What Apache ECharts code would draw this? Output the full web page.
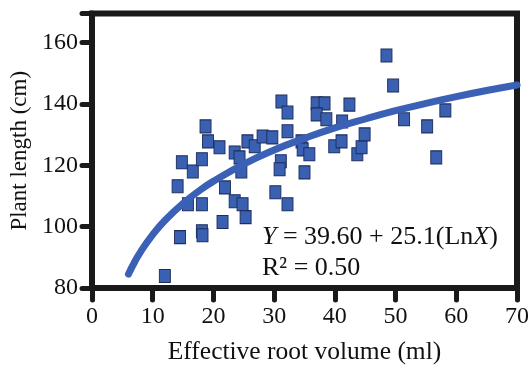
<!DOCTYPE html>
<html>
<head>
<meta charset="utf-8">
<script src="https://cdn.jsdelivr.net/npm/echarts@6/dist/echarts.min.js"></script>
<style>
  html, body { margin: 0; padding: 0; background: #fff; }
  #chart { width: 532px; height: 370px; }
</style>
</head>
<body>
<div id="chart"></div>
<script>
// root volume (ml) / plant length (cm)
const rootVolume = [12.0, 14.5, 14.1, 14.8, 15.8, 16.6, 18.1, 18.7, 19.1, 18.1, 18.2, 18.1,
    21.0, 21.5, 21.9, 23.5, 24.3, 23.5, 24.6, 24.8, 25.3, 25.6, 26.8, 28.1, 29.7,
    31.2, 32.2, 32.2, 31.1, 30.9, 30.2, 32.2, 34.5, 34.7, 35.8, 35.0, 37.0, 38.3,
    37.0, 38.6, 39.9, 41.1, 42.4, 41.2, 43.7, 44.4, 44.9, 48.5, 49.6, 51.4, 55.2,
    56.7, 58.2];
const plantLength = [83.9, 96.6, 113.2, 121.0, 107.3, 118.0, 122.0, 132.7, 127.8, 98.5, 97.2, 107.3,
    125.9, 101.5, 112.8, 124.2, 122.6, 108.3, 118.0, 107.3, 103.1, 127.8, 126.2, 129.4, 129.1,
    140.8, 137.2, 131.1, 121.3, 118.7, 111.2, 107.3, 127.8, 125.2, 123.6, 117.7, 140.2, 140.2,
    136.6, 135.0, 126.2, 127.8, 139.8, 134.3, 123.6, 125.9, 130.1, 155.8, 146.0, 135.0, 132.7,
    122.6, 137.9];

// fitted log curve as drawn
const fitX = [6, 7, 8, 10, 12, 15, 18, 20, 25, 30, 35, 40, 45, 50, 55, 60, 65, 70];
const fitY = [84.5, 88.4, 91.8, 97.4, 102.0, 107.6, 112.2, 114.8, 120.4, 125.0, 128.8, 132.2,
    135.1, 137.8, 140.2, 142.4, 144.4, 146.2];

const eqLine1 = '{i|Y}{n| = 39.60 + 25.1(Ln}{i|X}{n|)}';
const eqLine2 = 'R\u00B2 = 0.50';

const serif = '"Liberation Serif", "DejaVu Serif", serif';
const ink = '#1a1a1a';
const blue = '#3a60b2';

const myChart = echarts.init(document.getElementById('chart'));

const scatterData = rootVolume.map((x, i) => [x, plantLength[i]]);
const fitData = fitX.map((x, i) => [x, fitY[i]]);

const option = {
    animation: false,
    backgroundColor: '#fff',
    grid: {
        left: 92,
        right: 13,
        top: 13.5,
        bottom: 79,
        show: true,
        borderColor: ink,
        borderWidth: 6
    },
    xAxis: {
        type: 'value',
        min: 0,
        max: 70,
        interval: 10,
        name: 'Effective root volume (ml)',
        nameLocation: 'middle',
        nameGap: 51,
        nameTextStyle: {fontFamily: serif, fontSize: 25.5, color: '#111'},
        axisLine: {lineStyle: {color: ink, width: 6}},
        axisTick: {length: 12, lineStyle: {color: ink, width: 5, cap: 'round'}},
        axisLabel: {fontFamily: serif, fontSize: 24, color: '#111', margin: 17},
        splitLine: {show: false}
    },
    yAxis: {
        type: 'value',
        min: 80,
        max: 169.5,
        interval: 20,
        name: 'Plant length (cm)',
        nameLocation: 'middle',
        nameGap: 56,
        nameTextStyle: {fontFamily: serif, fontSize: 23, color: '#111'},
        axisLine: {lineStyle: {color: ink, width: 6}},
        axisTick: {length: 10, lineStyle: {color: ink, width: 5, cap: 'round'}},
        axisLabel: {
            fontFamily: serif, fontSize: 24, color: '#111', margin: 14,
            formatter: (v) => (v % 20 === 0 ? String(v) : '')
        },
        splitLine: {show: false}
    },
    graphic: [
        {
            type: 'text',
            x: 262,
            y: 237,
            z: 10,
            style: {
                text: eqLine1,
                verticalAlign: 'middle',
                fontFamily: serif,
                fontSize: 26,
                fill: '#111',
                rich: {
                    i: {fontFamily: serif, fontSize: 26, fontStyle: 'italic', fill: '#111'},
                    n: {fontFamily: serif, fontSize: 26, fill: '#111'}
                }
            }
        },
        {
            type: 'text',
            x: 262,
            y: 268,
            z: 10,
            style: {
                text: eqLine2,
                verticalAlign: 'middle',
                fontFamily: serif,
                fontSize: 26,
                fill: '#111'
            }
        }
    ],
    series: [
        {
            name: 'observed',
            type: 'scatter',
            data: scatterData,
            symbol: 'rect',
            symbolSize: [11, 13],
            itemStyle: {color: blue, opacity: 1, borderColor: '#1f2d5c', borderWidth: 1},
            z: 2
        },
        {
            name: 'fit',
            type: 'line',
            data: fitData,
            smooth: true,
            showSymbol: false,
            lineStyle: {color: '#3b61b6', width: 7, cap: 'round'},
            z: 3
        }
    ]
};
myChart.setOption(option);
</script>
</body>
</html>
